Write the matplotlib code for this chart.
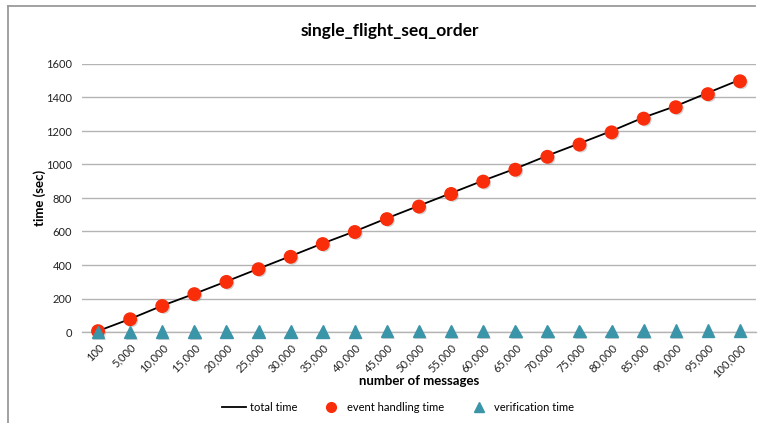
import matplotlib
matplotlib.use("Agg")
import matplotlib.pyplot as plt
import matplotlib.patheffects as pe
from matplotlib.lines import Line2D

plt.rcParams["font.family"] = ["Lato", "DejaVu Sans"]

CATEGORIES = [
    "100", "5,000", "10,000", "15,000", "20,000", "25,000", "30,000",
    "35,000", "40,000", "45,000", "50,000", "55,000", "60,000", "65,000",
    "70,000", "75,000", "80,000", "85,000", "90,000", "95,000", "100,000",
]
TOTAL_TIME = [
    6, 78, 157, 228, 302, 378, 453, 529, 601, 679, 754,
    829, 904, 975, 1053, 1126, 1200, 1281, 1349, 1428, 1506,
]
EVENT_TIME = [
    5, 76, 155, 226, 299, 375, 449, 525, 597, 674, 749,
    824, 898, 969, 1046, 1119, 1192, 1274, 1342, 1420, 1497,
]
VERIFY_TIME = [
    0.5, 1, 1.5, 2, 2.5, 3, 3.5, 4, 4, 4.5, 5,
    5, 5.5, 6, 6, 6.5, 7, 7.5, 8, 9, 10,
]
Y_TICKS = [0, 200, 400, 600, 800, 1000, 1200, 1400, 1600]

COLOR_EVENT = "#fa2d0a"
COLOR_VERIFY = "#3b95a9"
COLOR_GRID = "#b4b4b4"

W, H = 759, 423
AX_LEFT, AX_RIGHT, AX_TOP, AX_BOTTOM = 82, 756, 64, 332

fig = plt.figure(figsize=(W / 100, H / 100), dpi=100)
ax = fig.add_axes([AX_LEFT / W, 1 - AX_BOTTOM / H,
                   (AX_RIGHT - AX_LEFT) / W, (AX_BOTTOM - AX_TOP) / H])

x = list(range(len(CATEGORIES)))
shadow = [pe.SimplePatchShadow(offset=(1.2, -1.2), shadow_rgbFace="#808080", alpha=0.35), pe.Normal()]

ax.plot(x, TOTAL_TIME, color="black", lw=1.3, zorder=3)
ax.plot(x, EVENT_TIME, ls="none", marker="o", ms=9, color=COLOR_EVENT,
        mec=COLOR_EVENT, zorder=4, path_effects=shadow, clip_on=False)
ax.plot(x, VERIFY_TIME, ls="none", marker="^", ms=9, color=COLOR_VERIFY,
        mec=COLOR_VERIFY, zorder=5, path_effects=shadow, clip_on=False)

ax.set_xlim(-0.5, len(CATEGORIES) - 0.5)
ax.set_ylim(0, 1600)
ax.set_yticks(Y_TICKS)
ax.set_yticklabels([str(v) for v in Y_TICKS], fontsize=8, color="#222222")
ax.set_xticks(x)
ax.set_xticklabels(CATEGORIES, rotation=45, ha="right", rotation_mode="anchor",
                   fontsize=8, color="#222222")
ax.tick_params(axis="both", length=0, pad=7)

ax.grid(axis="y", color=COLOR_GRID, lw=1)
ax.set_axisbelow(True)
for side in ["top", "right", "left"]:
    ax.spines[side].set_visible(False)
ax.spines["bottom"].set_color(COLOR_GRID)
ax.spines["bottom"].set_linewidth(1)

ax.set_xlabel("number of messages", fontsize=9.5, fontweight="bold", labelpad=-3)
ax.set_ylabel("time (sec)", fontsize=9.5, fontweight="bold")
ax.yaxis.set_label_coords((46 - AX_LEFT) / (AX_RIGHT - AX_LEFT), 0.5)

fig.text(390 / W, 1 - 31 / H, "single_flight_seq_order", fontsize=12.5,
         fontweight="bold", ha="center", va="center")

handles = [
    Line2D([], [], color="black", lw=1.3),
    Line2D([], [], ls="none", marker="o", ms=7, color=COLOR_EVENT),
    Line2D([], [], ls="none", marker="^", ms=6.5, color=COLOR_VERIFY),
]
fig.legend(handles, ["total time", "event handling time", "verification time"],
           loc="center", bbox_to_anchor=(398 / W, 1 - 407 / H), ncol=3,
           frameon=False, fontsize=8, handlelength=2.2, handletextpad=0.3,
           columnspacing=2.0)

# chart-area border (only top and left edges show in the crop)
fig.add_artist(Line2D([8 / W, 8 / W], [0, 1 - 6 / H], color="#9a9a9a", lw=1.3))
fig.add_artist(Line2D([8 / W, 755 / W], [1 - 6 / H, 1 - 6 / H], color="#9a9a9a", lw=1.3))

fig.savefig("out.png", dpi=100)
